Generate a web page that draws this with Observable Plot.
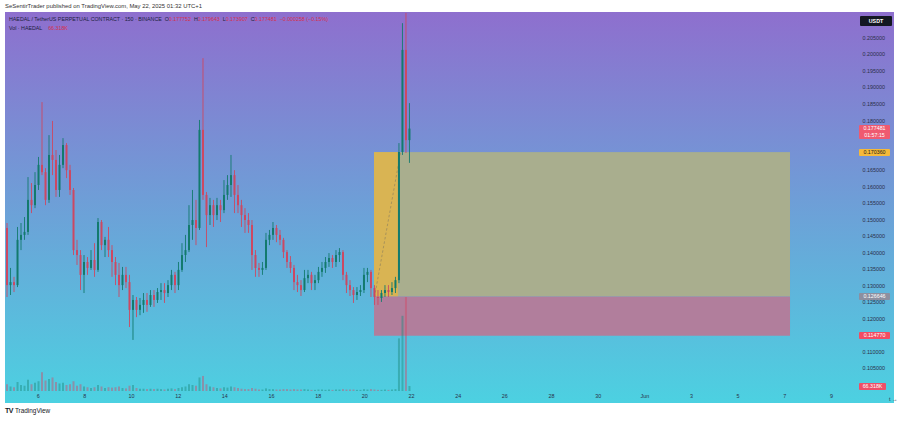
<!DOCTYPE html>
<html><head><meta charset="utf-8">
<script src="https://cdn.jsdelivr.net/npm/d3@7"></script>
<script src="https://cdn.jsdelivr.net/npm/@observablehq/plot@0.6"></script>
<style>
body{margin:0;background:#fff;font-family:Arial,"Liberation Sans",sans-serif;}
#wrap{position:relative;width:900px;height:421px;overflow:hidden;background:#fff;}
#hdr{position:absolute;left:5px;top:3px;font-size:5.9px;color:#333;white-space:nowrap;}
#bg{position:absolute;left:5px;top:12px;width:889px;height:391px;background:linear-gradient(#8e6fce,#4cd1e1);}
#main{position:absolute;left:0;top:12px;}
#vol{position:absolute;left:0;}
.lg{position:absolute;font-size:5.3px;color:#1c2140;white-space:nowrap;line-height:6px;}
.lg .r{color:#d6304e;}
.pl{position:absolute;left:859px;width:31px;font-size:5.3px;text-align:center;color:#fff;line-height:7px;}
#foot{position:absolute;left:5px;top:407px;font-size:6.4px;color:#131722;white-space:nowrap;}
#foot b{font-size:7px;letter-spacing:-0.5px;margin-right:2px;}
</style></head>
<body><div id="wrap">
<div id="hdr">SeSentirTrader published on TradingView.com, May 22, 2025 01:32 UTC+1</div>
<div id="bg"></div>
<div id="main"></div>
<div id="vol"></div>
<div id="foot"><b>TV</b>TradingView</div>
</div>
<script>
// ---- data ----
const firstCandleDay = 4.663;   // day-of-May of the first candle
const candleDays = 0.15;        // candle interval (days)
const opens = [0.1474,0.1301,0.1310,0.1301,0.1438,0.1453,0.1462,0.1559,0.1543,0.1604,
0.1665,0.1643,0.1559,0.1695,0.1680,0.1589,0.1665,0.1725,0.1649,0.1589,
0.1407,0.1392,0.1332,0.1371,0.1353,0.1377,0.1347,0.1492,0.1422,0.1438,
0.1407,0.1371,0.1332,0.1301,0.1332,0.1310,0.1226,0.1256,0.1226,0.1241,
0.1256,0.1241,0.1271,0.1256,0.1280,0.1286,0.1277,0.1301,0.1332,0.1301,
0.1347,0.1392,0.1407,0.1483,0.1498,0.1474,0.1771,0.1574,0.1513,0.1543,
0.1513,0.1543,0.1528,0.1574,0.1604,0.1634,0.1574,0.1543,0.1513,0.1498,
0.1483,0.1392,0.1353,0.1347,0.1353,0.1438,0.1453,0.1474,0.1453,0.1438,
0.1401,0.1371,0.1353,0.1310,0.1301,0.1286,0.1322,0.1332,0.1307,0.1316,
0.1341,0.1353,0.1371,0.1383,0.1371,0.1392,0.1401,0.1332,0.1301,0.1286,
0.1271,0.1280,0.1286,0.1332,0.1341,0.1292,0.1265,0.1262,0.1277,0.1286,
0.1280,0.1292,0.1316,0.1704,0.2013,0.1740];
const highs = [0.1489,0.1353,0.1326,0.1477,0.1489,0.1507,0.1628,0.1610,0.1643,0.1689,
0.1855,0.1655,0.1755,0.1798,0.1710,0.1695,0.1746,0.1731,0.1665,0.1595,
0.1438,0.1407,0.1392,0.1386,0.1407,0.1428,0.1504,0.1498,0.1447,0.1477,
0.1422,0.1386,0.1368,0.1356,0.1356,0.1332,0.1271,0.1265,0.1262,0.1277,
0.1277,0.1286,0.1286,0.1292,0.1307,0.1307,0.1316,0.1347,0.1341,0.1371,
0.1428,0.1453,0.1543,0.1589,0.1559,0.1801,0.1988,0.1583,0.1565,0.1559,
0.1565,0.1559,0.1619,0.1634,0.1695,0.1649,0.1604,0.1559,0.1534,0.1519,
0.1498,0.1407,0.1368,0.1371,0.1459,0.1468,0.1492,0.1483,0.1468,0.1444,
0.1407,0.1389,0.1362,0.1332,0.1316,0.1347,0.1347,0.1341,0.1332,0.1356,
0.1371,0.1386,0.1398,0.1392,0.1407,0.1413,0.1407,0.1341,0.1316,0.1295,
0.1295,0.1301,0.1353,0.1353,0.1347,0.1301,0.1286,0.1286,0.1301,0.1301,
0.1310,0.1326,0.1731,0.2094,0.2125,0.1852];
const lows = [0.1265,0.1271,0.1280,0.1295,0.1407,0.1438,0.1453,0.1519,0.1534,0.1589,
0.1634,0.1543,0.1550,0.1634,0.1568,0.1568,0.1655,0.1625,0.1574,0.1392,
0.1362,0.1286,0.1277,0.1332,0.1347,0.1326,0.1341,0.1407,0.1386,0.1386,
0.1326,0.1301,0.1265,0.1286,0.1292,0.1174,0.1135,0.1204,0.1210,0.1217,
0.1220,0.1235,0.1235,0.1247,0.1256,0.1247,0.1265,0.1286,0.1277,0.1286,
0.1341,0.1371,0.1401,0.1438,0.1422,0.1468,0.1559,0.1416,0.1483,0.1477,
0.1498,0.1492,0.1519,0.1559,0.1568,0.1519,0.1519,0.1477,0.1459,0.1459,
0.1347,0.1326,0.1326,0.1332,0.1347,0.1422,0.1438,0.1431,0.1422,0.1383,
0.1353,0.1338,0.1286,0.1280,0.1268,0.1280,0.1307,0.1286,0.1286,0.1307,
0.1326,0.1338,0.1356,0.1353,0.1356,0.1371,0.1316,0.1277,0.1268,0.1247,
0.1256,0.1268,0.1277,0.1310,0.1265,0.1241,0.1241,0.1250,0.1265,0.1265,
0.1271,0.1277,0.1307,0.1695,0.1701,0.1671];
const closes = [0.1301,0.1310,0.1301,0.1438,0.1453,0.1462,0.1559,0.1543,0.1604,0.1665,
0.1643,0.1559,0.1695,0.1680,0.1589,0.1665,0.1725,0.1649,0.1589,0.1407,
0.1392,0.1332,0.1371,0.1353,0.1377,0.1347,0.1492,0.1422,0.1438,0.1407,
0.1371,0.1332,0.1301,0.1332,0.1310,0.1226,0.1256,0.1226,0.1241,0.1256,
0.1241,0.1271,0.1256,0.1280,0.1286,0.1277,0.1301,0.1332,0.1301,0.1347,
0.1392,0.1407,0.1483,0.1498,0.1474,0.1771,0.1574,0.1513,0.1543,0.1513,
0.1543,0.1528,0.1574,0.1604,0.1634,0.1574,0.1543,0.1513,0.1498,0.1483,
0.1392,0.1353,0.1347,0.1353,0.1438,0.1453,0.1474,0.1453,0.1438,0.1401,
0.1371,0.1353,0.1310,0.1301,0.1286,0.1322,0.1332,0.1307,0.1316,0.1341,
0.1353,0.1371,0.1383,0.1371,0.1392,0.1401,0.1332,0.1301,0.1286,0.1271,
0.1280,0.1286,0.1332,0.1341,0.1292,0.1265,0.1262,0.1277,0.1286,0.1280,
0.1292,0.1316,0.1704,0.2013,0.1740,0.177481];
const volumesK = [90,60,50,120,80,70,150,90,110,130,
250,140,160,180,120,100,110,80,90,130,
70,90,60,50,40,50,80,60,40,50,
45,50,60,40,35,70,80,40,30,30,
25,30,25,30,25,20,30,35,25,40,
50,60,90,80,70,180,200,90,60,50,
40,35,50,45,60,50,40,30,25,25,
40,30,20,20,35,25,25,20,20,25,
25,20,25,20,20,25,20,15,15,20,
20,15,20,15,20,20,25,20,20,20,
15,15,25,20,25,20,15,15,20,15,
20,25,700,1000,1250,66.318];

// long-position tool
const posStartDay = 20.415, posFilledEndDay = 21.44, posEndDay = 38.246, dashEndDay = 21.53;
const entryPrice = 0.126646, targetPrice = 0.170360, stopPrice = 0.114770;

// axes (ticks hidden behind the price labels are left out)
const yTicks = [0.105,0.110,0.120,0.125,0.130,0.135,0.140,0.145,0.150,0.155,0.160,0.165,0.180,0.185,0.190,0.195,0.200,0.205];
const xTickDays = [6,8,10,12,14,16,18,20,22,24,26,28,30,32,34,36,38,40];
const xTickLabels = ["6","8","10","12","14","16","18","20","22","24","26","28","30","Jun","3","5","7","9"];

// ---- build ----
const candles = opens.map((o, i) => ({
  t: firstCandleDay + i * candleDays, open: o, high: highs[i], low: lows[i], close: closes[i], vol: volumesK[i],
  up: closes[i] >= o
}));
const GREEN = "#137a6d", RED = "#cc4862";
const xDomain = [4.598, 40.603];
const labelOf = new Map(xTickDays.map((d, i) => [d, xTickLabels[i]]));

const main = Plot.plot({
  width: 900, height: 391,
  marginLeft: 5, marginRight: 55, marginTop: 0, marginBottom: 12,
  style: {background: "transparent", fontSize: "5.4px", fontFamily: "Arial, 'Liberation Sans', sans-serif", color: "#2a3048"},
  x: {domain: xDomain},
  y: {domain: [0.09804, 0.21278]},
  marks: [
    Plot.rect([0], {x1: posStartDay, x2: posEndDay, y1: entryPrice, y2: targetPrice, fill: "#a9ae8e"}),
    Plot.rect([0], {x1: posStartDay, x2: posFilledEndDay, y1: entryPrice, y2: targetPrice, fill: "#d9b453"}),
    Plot.rect([0], {x1: posStartDay, x2: posEndDay, y1: stopPrice, y2: entryPrice, fill: "#b17e9c"}),
    Plot.link([0], {x1: posStartDay, y1: entryPrice, x2: dashEndDay, y2: targetPrice, stroke: "#9c8a5a", strokeWidth: 0.8, strokeDasharray: "2.5,2"}),
    Plot.ruleX(candles, {x: "t", y1: "low", y2: "high", stroke: d => d.up ? GREEN : RED, strokeWidth: 0.9}),
    Plot.ruleX(candles, {x: "t", y1: "open", y2: "close", stroke: d => d.up ? GREEN : RED, strokeWidth: 2}),
    Plot.axisY(yTicks, {anchor: "right", tickSize: 0, tickPadding: 17, tickFormat: d3.format(".6f")}),
    Plot.axisX(xTickDays, {anchor: "bottom", tickSize: 0, tickPadding: 3, tickFormat: d => labelOf.get(d)})
  ]
});
document.getElementById("main").appendChild(main);

const volH = 130;
const vol = Plot.plot({
  width: 900, height: volH,
  marginLeft: 5, marginRight: 55, marginTop: 0, marginBottom: 0,
  style: {background: "transparent"},
  x: {domain: xDomain, axis: null},
  y: {domain: [0, 1729], axis: null},
  marks: [
    Plot.ruleX(candles, {x: "t", y1: 0, y2: "vol", stroke: d => d.up ? "#1d8a7c" : "#d34a66", strokeOpacity: 0.45, strokeWidth: 2})
  ]
});
const volTop = 12 + 379 - volH;
const volDiv = document.getElementById("vol");
volDiv.style.top = volTop + "px";
volDiv.appendChild(vol);

// ---- overlays: legend & price labels ----
const wrap = document.getElementById("wrap");
function add(html, cls, css) {
  const d = document.createElement("div");
  d.className = cls; d.innerHTML = html; Object.assign(d.style, css); wrap.appendChild(d); return d;
}
add('HAEDAL / TetherUS PERPETUAL CONTRACT · 150 · BINANCE&nbsp;&nbsp;O<span class="r">0.177752</span>&nbsp;&nbsp;H<span class="r">0.179643</span>&nbsp;&nbsp;L<span class="r">0.173907</span>&nbsp;&nbsp;C<span class="r">0.177481</span>&nbsp;&nbsp;<span class="r">−0.000258 (−0.15%)</span>', "lg", {left: "9px", top: "16.3px"});
add('Vol · HAEDAL&nbsp;&nbsp;&nbsp;&nbsp;<span class="r">66.318K</span>', "lg", {left: "9px", top: "25.3px"});

const ys = main.scale("y");
const py = v => 12 + ys.apply(v);
add("USDT", "pl", {top: "15.5px", height: "10px", lineHeight: "10px", background: "#131722", fontWeight: "bold", borderRadius: "1px", left: "860px", width: "32px"});
add("0.177481<br>01:57:15", "pl", {top: (py(0.177481) - 3.6) + "px", height: "14px", background: "#ef5a70", borderRadius: "1px"});
add("0.170360", "pl", {top: (py(targetPrice) - 3.6) + "px", height: "7.5px", background: "#f5b93a", color: "#1c1c1c", borderRadius: "1px"});
add("0.126646", "pl", {top: (py(entryPrice) - 3.5) + "px", height: "7px", background: "#8c8fa0", borderRadius: "1px"});
add("0.114770", "pl", {top: (py(stopPrice) - 3.5) + "px", height: "7px", background: "#f24c62", borderRadius: "1px"});
const vs = vol.scale("y");
add("66.318K", "pl", {top: (volTop + vs.apply(66.318) - 3.5) + "px", height: "7px", background: "#ef4f68", width: "27px", borderRadius: "1px"});
</script>
</body></html>
